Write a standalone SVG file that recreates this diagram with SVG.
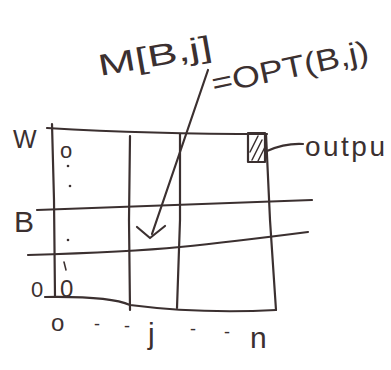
<svg xmlns="http://www.w3.org/2000/svg" width="391" height="370" viewBox="0 0 391 370">
<defs>
<style>
.ln{fill:none;stroke:#3b3030;stroke-width:2.2;stroke-linecap:round;stroke-linejoin:round}
.th{fill:none;stroke:#3b3030;stroke-width:1.5;stroke-linecap:round}
.dot{fill:#3b3030}
.t{font-family:"Liberation Sans",Arial,sans-serif;fill:#3b3030}
</style>
</defs>
<rect width="391" height="370" fill="#ffffff"/>
<g id="grid">
<path class="ln" d="M47 128 Q150 134 267 134"/>
<path class="ln" d="M52 124 L54 200 L55 297"/>
<path class="ln" d="M130 136 L129 220 L130 310"/>
<path class="ln" d="M180 134 L180 220 L177 308"/>
<path class="ln" d="M266 134 L270 220 L276 310"/>
<path class="ln" d="M37 210 Q160 206 312 200"/>
<path class="ln" d="M28 255 Q130 252 180 247 T308 232"/>
<path class="ln" d="M45 297 Q110 296 130 305 Q200 314 276 310"/>
<circle class="dot" cx="68" cy="166" r="1.3"/>
<circle class="dot" cx="70" cy="186" r="1.3"/>
<circle class="dot" cx="68" cy="240" r="1.3"/>
<path class="th" d="M64 262 L66 270"/>
</g>
<g id="output-cell">
<rect x="248" y="133" width="17" height="29" class="ln"/>
<path class="th" d="M250 152 L258 136 M252 160 L262 140 M258 161 L265 147"/>
</g>
<g id="labels">
<text class="t" x="13" y="148" font-size="25">W</text>
<text class="t" x="14" y="232" font-size="30">B</text>
<text class="t" x="31" y="297" font-size="22">0</text>
<text class="t" x="60" y="158" font-size="22">o</text>
<text class="t" x="60" y="297" font-size="24">0</text>
<text class="t" x="51" y="331" font-size="24">o</text>
<text class="t" x="94" y="330" font-size="18">-</text>
<text class="t" x="124" y="332" font-size="18">-</text>
<text class="t" x="148" y="344" font-size="30">j</text>
<text class="t" x="190" y="335" font-size="18">-</text>
<text class="t" x="224" y="338" font-size="18">-</text>
<text class="t" x="250" y="348" font-size="30">n</text>
<text class="t" x="305" y="156" font-size="28" textLength="80" lengthAdjust="spacing">outpu</text>
</g>
<g id="annotation">
<text class="t" x="100" y="76" font-size="30" transform="rotate(-10 100 76)" textLength="115" lengthAdjust="spacingAndGlyphs">M[B,j]</text>
<text class="t" x="214" y="94" font-size="30" transform="rotate(-12 214 94)" textLength="160" lengthAdjust="spacingAndGlyphs">=OPT(B,j)</text>
</g>
<g id="connectors">
<path class="ln" d="M208 70 L152 234"/>
<path class="ln" d="M137 227 L150 238 L165 226"/>
<path class="ln" d="M267 151 Q285 143 303 144"/>
</g>
</svg>
